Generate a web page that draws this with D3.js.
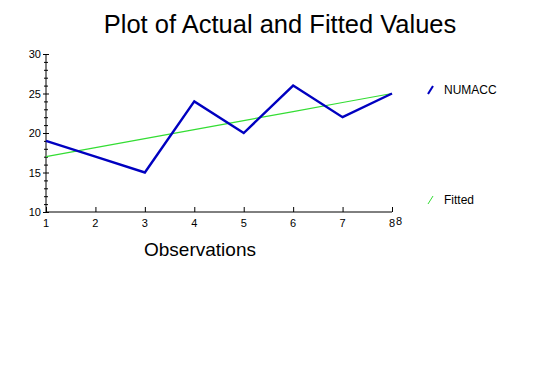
<!DOCTYPE html>
<html>
<head>
<meta charset="utf-8">
<script src="https://cdn.jsdelivr.net/npm/d3@7"></script>
<style>
  body { margin: 0; background: #fff; }
  svg { font-family: "Liberation Sans", Arial, sans-serif; }
</style>
</head>
<body>
<div id="chart"></div>
<script>
const observations = [1, 2, 3, 4, 5, 6, 7, 8];
const numacc = [19, 17, 15, 24, 20, 26, 22, 25];
const fitted = [17, 18.14, 19.29, 20.43, 21.57, 22.71, 23.86, 25];
const yTicks = [10, 15, 20, 25, 30];

const W = 560, H = 376;
const svg = d3.select("#chart").append("svg")
  .attr("width", W).attr("height", H);

const x = d3.scaleLinear().domain([1, 8]).range([46, 392]);
const y = d3.scaleLinear().domain([10, 30]).range([212, 54]);

// Title
svg.append("text")
  .attr("x", 280).attr("y", 33)
  .attr("text-anchor", "middle")
  .attr("font-size", "25.5px")
  .text("Plot of Actual and Fitted Values");

// Y axis
const yAxis = svg.append("g").attr("transform", `translate(${x(1)},0)`);
yAxis.append("line")
  .attr("y1", y(30)).attr("y2", y(10))
  .attr("stroke", "#000");
yAxis.selectAll("line.minor")
  .data(d3.range(10, 31))
  .join("line")
  .attr("class", "minor")
  .attr("x1", d => d % 5 === 0 ? -3 : -2)
  .attr("x2", d => d % 5 === 0 ? 3 : 2)
  .attr("y1", d => y(d) + 0.5).attr("y2", d => y(d) + 0.5)
  .attr("stroke", "#000");
yAxis.selectAll("text")
  .data(yTicks)
  .join("text")
  .attr("x", -5)
  .attr("y", d => y(d) + 4)
  .attr("text-anchor", "end")
  .attr("font-size", "11px")
  .text(d => d);

// X axis
const xAxis = svg.append("g").attr("transform", `translate(0,${y(10)})`);
xAxis.append("line")
  .attr("x1", x(1)).attr("x2", x(8))
  .attr("stroke", "#000");
xAxis.selectAll("line.tick")
  .data(observations)
  .join("line")
  .attr("class", "tick")
  .attr("x1", d => x(d) + 0.5).attr("x2", d => x(d) + 0.5)
  .attr("y1", -5).attr("y2", 0)
  .attr("stroke", "#000");
xAxis.selectAll("text")
  .data(observations)
  .join("text")
  .attr("x", d => x(d))
  .attr("y", 15)
  .attr("text-anchor", "middle")
  .attr("font-size", "11px")
  .text(d => d);
xAxis.append("text")
  .attr("x", x(8) + 4).attr("y", 13)
  .attr("font-size", "11px")
  .text("8");

svg.append("text")
  .attr("x", 200).attr("y", 256)
  .attr("text-anchor", "middle")
  .attr("font-size", "19px")
  .text("Observations");

// Lines
const line = vals => d3.line()
  .x((d, i) => x(observations[i]))
  .y(d => y(d))(vals);

svg.append("path")
  .attr("d", line(fitted))
  .attr("fill", "none")
  .attr("stroke", "#33dd33")
  .attr("stroke-width", 1.2);

svg.append("path")
  .attr("d", line(numacc))
  .attr("fill", "none")
  .attr("stroke", "#0000c0")
  .attr("stroke-width", 2.4);

// Legend
const legend = [
  { name: "NUMACC", color: "#0000c0", w: 2, y: 90 },
  { name: "Fitted", color: "#33dd33", w: 1, y: 200 }
];
const lg = svg.selectAll("g.legend")
  .data(legend)
  .join("g")
  .attr("class", "legend")
  .attr("transform", d => `translate(0,${d.y})`);
lg.append("line")
  .attr("x1", 428).attr("x2", 433)
  .attr("y1", 4).attr("y2", -4)
  .attr("stroke", d => d.color)
  .attr("stroke-width", d => d.w);
lg.append("text")
  .attr("x", 444).attr("y", 4)
  .attr("font-size", "12px")
  .text(d => d.name);
</script>
</body>
</html>
